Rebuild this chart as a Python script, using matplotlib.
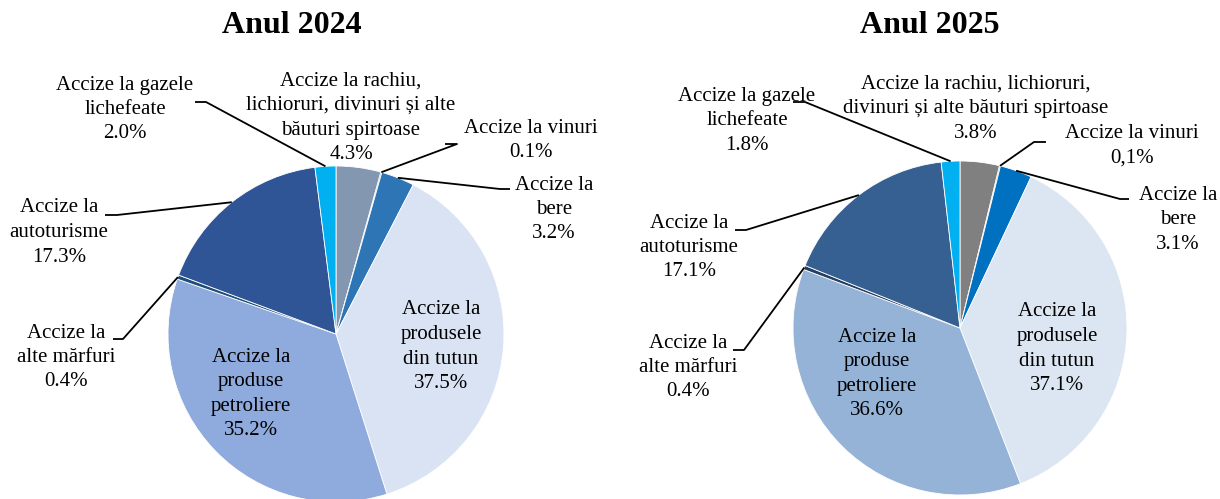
import matplotlib.pyplot as plt
import numpy as np

plt.rcParams['font.family'] = ['Liberation Serif', 'DejaVu Serif']

# categories (order around the pie, clockwise from 12 o'clock)
categories = ["rachiu", "vinuri", "bere", "tutun", "petroliere", "alte", "autoturisme", "gazele"]
names_2024 = [
    ["Accize la rachiu,", "lichioruri, divinuri și alte", "băuturi spirtoase"],
    ["Accize la vinuri"],
    ["Accize la", "bere"],
    ["Accize la", "produsele", "din tutun"],
    ["Accize la", "produse", "petroliere"],
    ["Accize la", "alte mărfuri"],
    ["Accize la", "autoturisme"],
    ["Accize la gazele", "lichefeate"],
]
names_2025 = [
    ["Accize la rachiu, lichioruri,", "divinuri și alte băuturi spirtoase"],
] + names_2024[1:]
values_2024 = [4.3, 0.1, 3.2, 37.5, 35.2, 0.4, 17.3, 2.0]
values_2025 = [3.8, 0.1, 3.1, 37.1, 36.6, 0.4, 17.1, 1.8]
pct_2024 = ["4.3%", "0.1%", "3.2%", "37.5%", "35.2%", "0.4%", "17.3%", "2.0%"]
pct_2025 = ["3.8%", "0,1%", "3.1%", "37.1%", "36.6%", "0.4%", "17.1%", "1.8%"]

colors_2024 = ["#8497B0", "#1F4E79", "#2E75B6", "#DAE3F3", "#8FAADC", "#1F4E79", "#2F5597", "#00B0F0"]
colors_2025 = ["#808080", "#1F4E79", "#0070C0", "#DCE6F2", "#95B3D7", "#254061", "#376092", "#00B0F0"]

fig = plt.figure(figsize=(12.2, 4.99), dpi=100)
ax = fig.add_axes([0, 0, 1, 1])

FS = 15
STEP = 24.5


def draw_pie(values, names, pcts, colors, center, radius, layout, title, title_x):
    wedges, _ = ax.pie(values, colors=colors, startangle=-90, counterclock=True,
                       center=center, radius=radius,
                       wedgeprops=dict(edgecolor="white", linewidth=0.6))
    for cat, w, lines, p in zip(categories, wedges, names, pcts):
        tx, ty, leader = layout[cat]
        for i, line in enumerate(lines + [p]):
            ax.text(tx, ty + i * STEP, line, ha="center", va="center", fontsize=FS)
        if leader is not None:
            mid = np.deg2rad((w.theta1 + w.theta2) / 2)
            ex = center[0] + radius * np.cos(mid)
            ey = center[1] + radius * np.sin(mid)
            xs = [p_[0] for p_ in leader] + [ex]
            ys = [p_[1] for p_ in leader] + [ey]
            ax.plot(xs, ys, color="black", lw=1.3, solid_capstyle="butt")
    ax.text(title_x, 25, title, ha="center", va="center", fontsize=23,
            fontweight="bold")


# label block: (centre x, first line y, leader elbow points)
layout_2024 = {
    "rachiu": (351, 81, None),
    "vinuri": (531, 128, [(445, 144), (457, 144)]),
    "bere": (554, 185, [(510, 189), (500, 189)]),
    "tutun": (441, 310, None),
    "petroliere": (251, 357, None),
    "alte": (66, 333, [(113, 339), (123, 339)]),
    "autoturisme": (59, 208, [(105, 215), (117, 215)]),
    "gazele": (125, 85, [(195, 102), (206, 102)]),
}
layout_2025 = {
    "rachiu": (976, 84, None),
    "vinuri": (1132, 134, [(1046, 142), (1034, 142)]),
    "bere": (1178, 195, [(1129, 199), (1120, 199)]),
    "tutun": (1057, 312, None),
    "petroliere": (877, 337, None),
    "alte": (688, 343, [(733, 350), (744, 350)]),
    "autoturisme": (689, 223, [(735, 230), (746, 230)]),
    "gazele": (747, 96, [(793, 102), (805, 102)]),
}

draw_pie(values_2024, names_2024, pct_2024, colors_2024, (336, 334), 168, layout_2024, "Anul 2024", 292)
draw_pie(values_2025, names_2025, pct_2025, colors_2025, (960, 328), 167, layout_2025, "Anul 2025", 930)

ax.set_xlim(0, 1220)
ax.set_ylim(499, 0)
ax.set_aspect("equal")
ax.axis("off")

fig.savefig("out.png", dpi=100)
